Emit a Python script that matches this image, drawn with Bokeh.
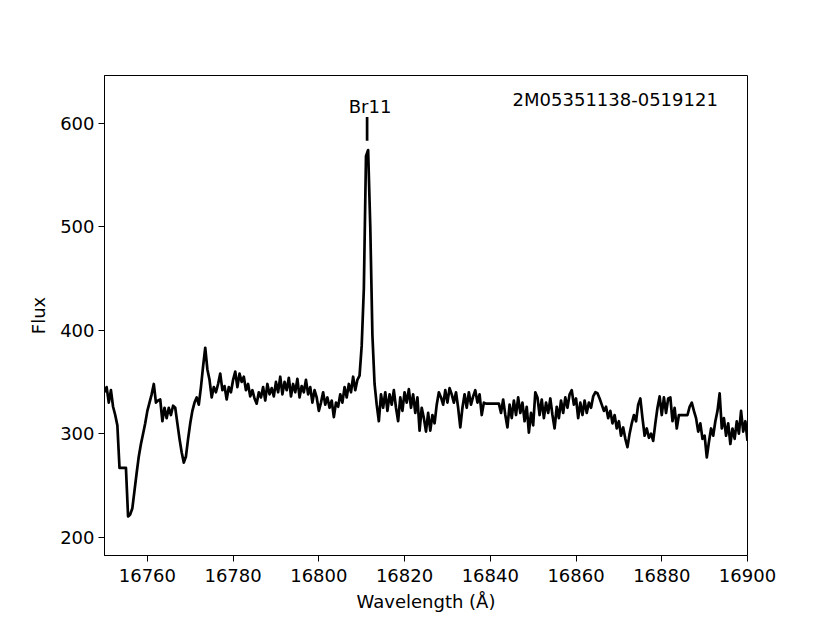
import numpy as np
from bokeh.plotting import figure
from bokeh.models import Range1d, FixedTicker, Label, BasicTickFormatter
from bokeh.embed import file_html
from bokeh.resources import INLINE

# ---------------- data ----------------
wave_start = 16750.0
wave_step = 0.5
# flux, 10 values per row (5 Angstrom per row), starting at 16750
flux = [
    340, 345, 330, 342, 326, 318, 308, 267, 267, 267,   # 16750
    267, 220, 222, 228, 245, 262, 278, 290, 300, 310,   # 16755
    322, 330, 338, 348, 330, 332, 333, 312, 325, 315,   # 16760
    325, 318, 327, 325, 310, 295, 282, 272, 278, 295,   # 16765
    310, 322, 330, 335, 328, 345, 365, 383, 362, 352,   # 16770
    335, 345, 340, 348, 358, 342, 346, 333, 345, 340,   # 16775
    352, 360, 345, 358, 350, 355, 342, 348, 336, 342,   # 16780
    334, 329, 340, 335, 345, 332, 348, 338, 344, 336,   # 16785
    350, 340, 355, 338, 350, 342, 354, 336, 348, 340,   # 16790
    353, 335, 346, 340, 352, 338, 345, 330, 342, 335,   # 16795
    322, 330, 340, 328, 335, 325, 332, 316, 330, 326,   # 16800
    338, 330, 345, 335, 348, 340, 355, 342, 352, 356,   # 16805
    385, 440, 568, 574, 500, 395, 348, 328, 312, 338,   # 16810
    325, 340, 322, 338, 328, 342, 325, 312, 335, 322,   # 16815
    340, 330, 343, 325, 338, 320, 335, 303, 325, 315,   # 16820
    302, 320, 303, 318, 310, 328, 340, 335, 328, 342,   # 16825
    330, 344, 338, 330, 340, 325, 306, 325, 338, 325,   # 16830
    340, 328, 336, 342, 330, 338, 318, 330, 329, 329,   # 16835
    329, 329, 329, 329, 329, 320, 333, 318, 306, 328,   # 16840
    315, 332, 318, 335, 320, 330, 312, 326, 301, 320,   # 16845
    308, 340, 335, 318, 333, 315, 330, 320, 334, 318,   # 16850
    305, 326, 315, 332, 320, 335, 325, 338, 342, 328,   # 16855
    334, 315, 330, 318, 332, 320, 330, 325, 336, 340,   # 16860
    339, 334, 328, 322, 326, 315, 322, 310, 318, 305,   # 16865
    312, 298, 306, 295, 287, 300, 310, 318, 312, 328,   # 16870
    334, 315, 298, 305, 296, 300, 293, 310, 325, 336,   # 16875
    318, 335, 320, 334, 335, 312, 325, 305, 318, 318,   # 16880
    318, 318, 318, 326, 330, 322, 315, 302, 310, 295,   # 16885
    298, 277, 292, 305, 298, 312, 322, 339, 305, 315,   # 16890
    298, 310, 290, 305, 295, 312, 300, 322, 302, 312,   # 16895
    293,                                                # 16900
]
wave = [wave_start + wave_step * i for i in range(len(flux))]

line_name = "Br11"
line_wave = 16811.26
line_mark_lo = 583
line_mark_hi = 606
star_id = "2M05351138-0519121"

x_ticks = [16760, 16780, 16800, 16820, 16840, 16860, 16880, 16900]
y_ticks = [200, 300, 400, 500, 600]

FONT = "DejaVu Sans"
FS = "18px"

# ---------------- figure ----------------
p = figure(width=822, height=615, output_backend="svg", toolbar_location=None,
           x_range=Range1d(16750, 16900), y_range=Range1d(182.3, 646.0),
           min_border_left=104, min_border_right=75, min_border_top=75,
           min_border_bottom=60)
p.background_fill_color = "white"
p.border_fill_color = "white"
p.outline_line_color = "black"
p.outline_line_width = 1
p.grid.visible = False

p.line(wave, flux, line_color="black", line_width=2.7, line_join="round")
p.segment(x0=[line_wave], y0=[line_mark_lo], x1=[line_wave], y1=[line_mark_hi],
          line_color="black", line_width=2.7)

p.add_layout(Label(x=line_wave + 0.7, y=616, text=line_name, text_font=FONT,
                   text_font_size=FS, text_align="center",
                   text_baseline="alphabetic", text_color="black"))
p.add_layout(Label(x=16845.2, y=622.4, text=star_id, text_font=FONT,
                   text_font_size=FS, text_align="left",
                   text_baseline="alphabetic", text_color="black"))

for ax in (p.xaxis[0], p.yaxis[0]):
    ax.axis_line_color = "black"
    ax.axis_line_width = 1
    ax.major_tick_line_color = "black"
    ax.major_tick_line_width = 1
    ax.major_tick_in = 0
    ax.major_tick_out = 6
    ax.minor_tick_line_color = None
    ax.major_label_text_font = FONT
    ax.major_label_text_font_size = FS
    ax.major_label_text_color = "black"
    ax.axis_label_text_font = FONT
    ax.axis_label_text_font_size = FS
    ax.axis_label_text_font_style = "normal"
    ax.axis_label_text_color = "black"
    ax.formatter = BasicTickFormatter(use_scientific=False)

p.xaxis[0].major_label_standoff = 7
p.xaxis[0].axis_label_standoff = 6
p.yaxis[0].major_label_standoff = 4
p.yaxis[0].axis_label_standoff = 8

p.xaxis[0].ticker = FixedTicker(ticks=x_ticks)
p.yaxis[0].ticker = FixedTicker(ticks=y_ticks)
p.xaxis[0].axis_label = "Wavelength (Å)"
p.yaxis[0].axis_label = "Flux"

open("out.html", "w").write(file_html(p, INLINE))
